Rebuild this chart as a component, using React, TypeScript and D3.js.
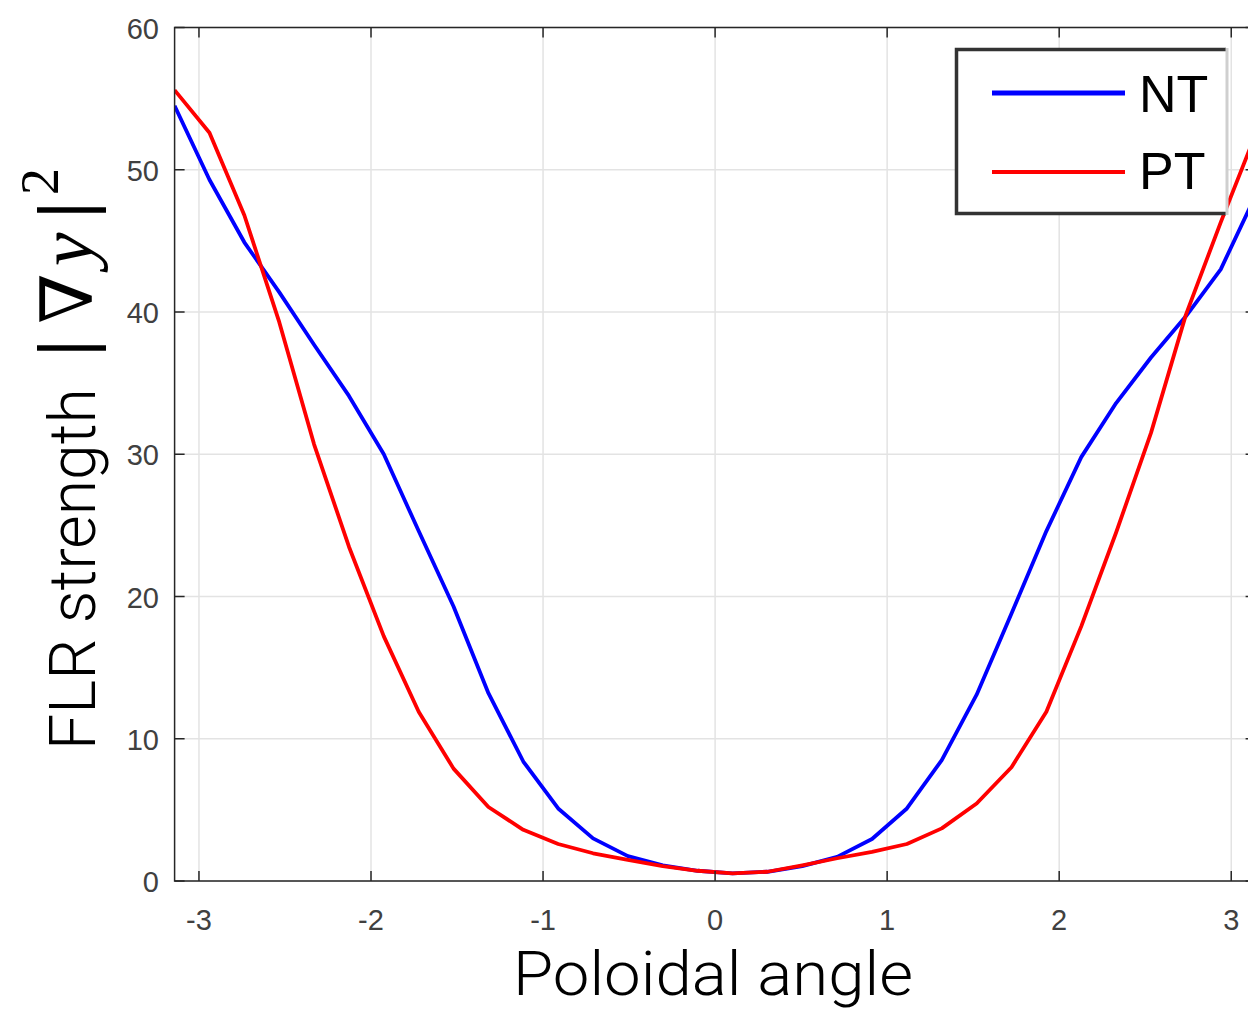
import React from "react";
import * as d3 from "d3";

const angles = [
  -3.1416, -2.9389, -2.7362, -2.5336, -2.3309, -2.1282, -1.9255, -1.7228,
  -1.5202, -1.3175, -1.1148, -0.9121, -0.7094, -0.5068, -0.3041, -0.1014,
  0.1014, 0.3041, 0.5068, 0.7094, 0.9121, 1.1148, 1.3175, 1.5202,
  1.7228, 1.9255, 2.1282, 2.3309, 2.5336, 2.7362, 2.9389, 3.1416,
];
const ntValues = [
  54.5, 49.3, 44.9, 41.4, 37.7, 34.1, 30.0, 24.6, 19.3, 13.2, 8.4, 5.1, 3.0, 1.75, 1.1, 0.72,
  0.54, 0.65, 1.05, 1.7, 2.95, 5.1, 8.5, 13.1, 18.8, 24.6, 29.8, 33.6, 36.8, 39.7, 43.0, 48.2,
];
const ptValues = [
  55.6, 52.6, 46.8, 39.3, 30.7, 23.5, 17.2, 11.9, 7.9, 5.2, 3.6, 2.6, 1.95, 1.48, 1.05, 0.72,
  0.54, 0.65, 1.1, 1.6, 2.05, 2.6, 3.7, 5.45, 8.0, 11.9, 17.9, 24.5, 31.5, 39.8, 46.3, 52.5,
];
const xTicks = [-3, -2, -1, 0, 1, 2, 3];
const yTicks = [0, 10, 20, 30, 40, 50, 60];
const seriesNames = ["NT", "PT"];
const seriesColors = ["#0000ff", "#ff0000"];

const W = 1248;
const H = 1010;
const left = 174.6;
const right = 1255.6;
const top = 27.5;
const bottom = 881;

export default function App() {
  const x = d3.scaleLinear().domain([-Math.PI, Math.PI]).range([left, right]);
  const y = d3.scaleLinear().domain([0, 60]).range([bottom, top]);
  const line = d3
    .line<[number, number]>()
    .x((d) => x(d[0]))
    .y((d) => y(d[1]));
  const series = [ntValues, ptValues].map((vals) =>
    angles.map((a, i) => [a, vals[i]] as [number, number])
  );
  const axisColor = "#262626";
  const gridColor = "#e3e3e3";
  const tickLen = 10;
  const tickFont = "'Liberation Sans', Arial, sans-serif";
  const lightFont = "Roboto, 'Liberation Sans', sans-serif";
  const serif = "'Liberation Serif', 'DejaVu Serif', serif";

  return (
    <svg
      width={W}
      height={H}
      style={{ position: "absolute", left: 0, top: 0, background: "#fff" }}
    >
      <rect x={0} y={0} width={W} height={H} fill="#fff" />
      <defs>
        <clipPath id="plot">
          <rect x={left} y={top} width={right - left} height={bottom - top} />
        </clipPath>
      </defs>
      {xTicks.map((t) => (
        <line key={"gx" + t} x1={x(t)} x2={x(t)} y1={top} y2={bottom} stroke={gridColor} strokeWidth={1.5} />
      ))}
      {yTicks.map((t) => (
        <line key={"gy" + t} x1={left} x2={right} y1={y(t)} y2={y(t)} stroke={gridColor} strokeWidth={1.5} />
      ))}
      <g clipPath="url(#plot)">
        {series.map((s, i) => (
          <path
            key={i}
            d={line(s) || ""}
            fill="none"
            stroke={seriesColors[i]}
            strokeWidth={3.8}
            strokeLinejoin="round"
          />
        ))}
      </g>
      <rect x={left} y={top} width={right - left} height={bottom - top} fill="none" stroke={axisColor} strokeWidth={1.5} />
      {xTicks.map((t) => (
        <g key={"tx" + t}>
          <line x1={x(t)} x2={x(t)} y1={bottom} y2={bottom - tickLen} stroke={axisColor} strokeWidth={1.5} />
          <line x1={x(t)} x2={x(t)} y1={top} y2={top + tickLen} stroke={axisColor} strokeWidth={1.5} />
          <text x={x(t)} y={930} textAnchor="middle" fontFamily={tickFont} fontSize={29} fill="#404040">
            {t}
          </text>
        </g>
      ))}
      {yTicks.map((t) => (
        <g key={"ty" + t}>
          <line x1={left} x2={left + tickLen} y1={y(t)} y2={y(t)} stroke={axisColor} strokeWidth={1.5} />
          <line x1={right} x2={right - tickLen} y1={y(t)} y2={y(t)} stroke={axisColor} strokeWidth={1.5} />
          <text x={159} y={y(t) + 11} textAnchor="end" fontFamily={tickFont} fontSize={29} fill="#404040">
            {t}
          </text>
        </g>
      ))}
      <text
        x={713}
        y={995}
        textAnchor="middle"
        fontFamily={lightFont}
        fontWeight={300}
        fontSize={62}
        textLength={400}
        lengthAdjust="spacingAndGlyphs"
        fill="#000"
      >
        Poloidal angle
      </text>
      <text
        transform="translate(95,750) rotate(-90)"
        fontFamily={lightFont}
        fontWeight={300}
        fontSize={64}
        textLength={362}
        lengthAdjust="spacingAndGlyphs"
        fill="#000"
      >
        FLR strength
      </text>
      <text transform="translate(90,348) rotate(-90)" textAnchor="middle" fontFamily={serif} fontWeight="bold" fontSize={77} fill="#000">
        |
      </text>
      <text transform="translate(92,298.5) rotate(-90)" textAnchor="middle" fontFamily={serif} fontSize={72} fill="#000">
        ∇
      </text>
      <text transform="translate(92,249.5) rotate(-90)" textAnchor="middle" fontFamily={serif} fontStyle="italic" fontSize={76} fill="#000">
        y
      </text>
      <text transform="translate(90,210) rotate(-90)" textAnchor="middle" fontFamily={serif} fontWeight="bold" fontSize={77} fill="#000">
        |
      </text>
      <text transform="translate(58,181.5) rotate(-90)" textAnchor="middle" fontFamily={serif} fontSize={54} fill="#000">
        2
      </text>
      <rect x={955} y={48} width={272} height={167} fill="#fff" />
      <path d="M1226,49.5 H956.5 V213.5 H1226" fill="none" stroke="#333" strokeWidth={3.5} />
      <line x1={1227} x2={1227} y1={48} y2={215} stroke="#cfcfcf" strokeWidth={3} />
      {seriesNames.map((n, i) => (
        <g key={n}>
          <line
            x1={992}
            x2={1125}
            y1={i === 0 ? 93 : 172}
            y2={i === 0 ? 93 : 172}
            stroke={seriesColors[i]}
            strokeWidth={i === 0 ? 5 : 4}
          />
          <text x={1139} y={i === 0 ? 112 : 189} fontFamily={tickFont} fontSize={52} fill="#000">
            {n}
          </text>
        </g>
      ))}
    </svg>
  );
}
